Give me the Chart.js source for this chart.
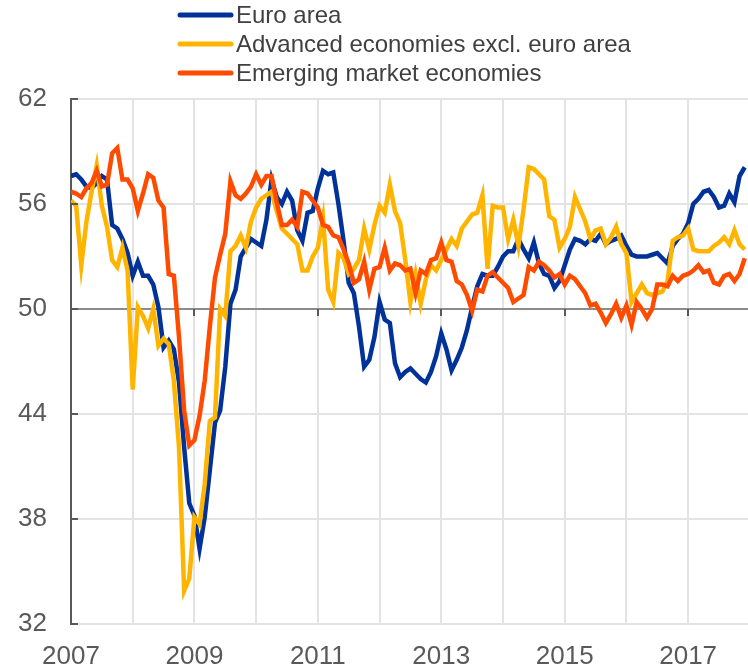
<!DOCTYPE html>
<html>
<head>
<meta charset="utf-8">
<script src="https://cdn.jsdelivr.net/npm/chart.js@4/dist/chart.umd.min.js"></script>
<style>
  body { margin: 0; background: #fff; }
  canvas { display: block; }
</style>
</head>
<body>
<canvas id="pmi-chart" width="748" height="668"></canvas>
<script>
// monthly values, Jan 2007 - Dec 2017
const startYear = 2007;

const euroArea = [
  57.6, 57.7, 57.4, 57.0, 56.9, 57.2, 57.6, 57.4, 54.8, 54.6, 54.0, 53.2,
  51.9, 52.7, 51.9, 51.9, 51.4, 50.1, 47.8, 48.2, 47.7, 45.8, 42.1, 38.9,
  38.2, 36.3, 38.1, 40.8, 43.5, 44.2, 46.7, 50.3, 51.1, 53.0, 53.5, 54.0,
  53.8, 53.6, 55.1, 57.4, 56.4, 56.0, 56.7, 56.2, 54.5, 53.9, 55.5, 55.6,
  56.9, 57.9, 57.7, 57.8, 56.0, 53.9, 51.5, 50.9, 49.0, 46.7, 47.1, 48.4,
  50.4, 49.4, 49.2, 46.9, 46.1, 46.4, 46.6, 46.3, 46.0, 45.8, 46.4, 47.3,
  48.6, 47.7, 46.5, 47.1, 47.8, 48.8, 50.1, 51.3, 52.0, 51.9, 51.9, 52.4,
  53.0, 53.3, 53.3, 54.0, 53.4, 52.9, 53.8, 52.6, 52.0, 51.9, 51.2, 51.6,
  52.5, 53.4, 54.0, 53.9, 53.7, 54.0, 53.9, 54.3, 53.7, 53.9, 54.0, 54.2,
  53.6, 53.1, 53.0, 53.0, 53.0, 53.1, 53.2, 52.9, 52.6, 53.6, 54.0, 54.3,
  54.9, 56.0, 56.3, 56.7, 56.8, 56.4, 55.8, 55.9, 56.6, 56.1, 57.6, 58.1
];

const advancedExEuro = [
  56.2, 55.9, 52.5, 55.0, 56.7, 58.2, 55.9, 54.7, 52.8, 52.4, 53.5, 52.2,
  45.4, 50.1, 49.6, 48.9, 50.0, 47.9, 48.3, 48.0, 45.9, 42.1, 33.9, 34.6,
  38.1, 37.7, 40.0, 43.6, 43.8, 50.0, 49.6, 53.3, 53.6, 54.2, 53.5, 55.0,
  55.8, 56.3, 56.5, 56.7, 55.6, 54.6, 54.3, 54.0, 53.7, 52.2, 52.2, 53.0,
  53.5, 55.2, 51.1, 50.4, 53.2, 52.9, 52.0, 52.3, 52.8, 54.6, 53.4, 54.8,
  55.9, 55.5, 57.1, 55.6, 54.9, 52.8, 50.4, 52.0, 50.3, 51.7, 52.5, 52.2,
  52.8, 53.4, 54.0, 53.6, 54.6, 55.0, 55.4, 55.5, 56.5, 52.3, 55.9, 55.8,
  55.8, 54.0, 55.1, 53.6, 55.7, 58.1, 58.0, 57.7, 57.4, 55.3, 55.1, 53.5,
  54.0, 54.7, 56.4, 55.7, 55.0, 54.0, 54.5, 54.6, 53.7, 54.1, 54.7, 53.7,
  53.2, 50.4, 50.9, 51.4, 50.9, 50.8, 50.9, 51.0, 51.6, 53.9, 54.1, 54.2,
  54.6, 53.4, 53.3, 53.3, 53.3, 53.6, 53.8, 54.1, 53.7, 54.5, 53.7, 53.4
];

const emergingMarkets = [
  56.7, 56.6, 56.4, 56.9, 57.2, 57.9, 57.0, 57.1, 58.9, 59.2, 57.4, 57.4,
  56.9, 55.6, 56.6, 57.7, 57.5, 56.2, 55.8, 52.0, 51.9, 48.4, 44.2, 42.2,
  42.5, 43.9, 45.9, 49.0, 51.8, 53.1, 54.3, 57.3, 56.5, 56.3, 56.6, 57.0,
  57.7, 57.1, 57.6, 57.6, 56.1, 54.8, 54.8, 55.1, 54.7, 56.7, 56.6, 56.2,
  55.8, 54.8, 54.7, 54.2, 54.1, 53.4, 52.6, 51.5, 51.7, 52.7, 51.1, 52.3,
  52.4, 53.5, 52.2, 52.6, 52.5, 52.2, 52.3, 50.9, 52.2, 52.0, 52.8, 52.9,
  53.8, 52.8, 52.7, 51.6, 51.4, 50.8, 49.9, 51.1, 51.0, 51.9, 52.1, 51.8,
  51.5, 51.2, 50.4, 50.6, 50.8, 52.4, 52.2, 52.7, 52.5, 52.2, 51.8, 52.0,
  51.4, 51.9, 51.7, 51.3, 50.9, 50.2, 50.3, 49.8, 49.2, 49.7, 50.3, 49.5,
  50.2, 49.1, 50.4, 50.0, 49.5, 50.0, 51.4, 51.4, 51.3, 51.9, 51.6, 51.9,
  52.0, 52.2, 52.5, 52.1, 52.2, 51.5, 51.4, 51.9, 52.0, 51.6, 52.0, 52.9
];

const seriesNames = ['Euro area', 'Advanced economies excl. euro area', 'Emerging market economies'];
const seriesColors = ['#003299', '#ffb400', '#ff4b00'];
const yTicks = [32, 38, 44, 50, 56, 62];
const labelYears = [2007, 2009, 2011, 2013, 2015, 2017];

// x = decimal year for each month
function toPoints(values) {
    return values.map((v, i) => ({ x: startYear + i / 12, y: v }));
}

// legend (one item per row) + short inner ticks on the axes
const extras = {
    id: 'extras',
    afterDatasetsDraw(chart) {
        const ctx = chart.ctx;
        const area = chart.chartArea;
        const xs = chart.scales.x;
        const ys = chart.scales.y;
        ctx.save();
        ctx.strokeStyle = '#595959';
        ctx.lineWidth = 2;
        ctx.beginPath();
        yTicks.forEach(t => {
            const y = Math.round(ys.getPixelForValue(t));
            ctx.moveTo(area.left, y);
            ctx.lineTo(area.left + 7, y);
        });
        const y50 = Math.round(ys.getPixelForValue(50));
        labelYears.forEach(yr => {
            if (yr === startYear) return;
            const x = Math.round(xs.getPixelForValue(yr));
            ctx.moveTo(x, y50);
            ctx.lineTo(x, y50 + 7);
        });
        ctx.stroke();

        ctx.font = "24px 'Liberation Sans', Arial, sans-serif";
        ctx.textBaseline = 'middle';
        ctx.lineCap = 'round';
        seriesNames.forEach((name, i) => {
            const y = 15 + i * 29;
            ctx.strokeStyle = seriesColors[i];
            ctx.lineWidth = 5;
            ctx.beginPath();
            ctx.moveTo(180, y);
            ctx.lineTo(231, y);
            ctx.stroke();
            ctx.fillStyle = '#404040';
            ctx.fillText(name, 236, y + 1);
        });
        ctx.restore();
    }
};

Chart.defaults.font.family = "'Liberation Sans', Arial, sans-serif";
Chart.defaults.color = '#595959';

const datasets = [euroArea, advancedExEuro, emergingMarkets].map((vals, i) => ({
    label: seriesNames[i],
    data: toPoints(vals),
    borderColor: seriesColors[i],
    backgroundColor: seriesColors[i],
    borderWidth: 4.5,
    pointRadius: 0,
    tension: 0,
    order: 2 - i
}));

new Chart(document.getElementById('pmi-chart'), {
    type: 'line',
    data: { datasets: datasets },
    plugins: [extras],
    options: {
        responsive: false,
        animation: false,
        layout: { padding: { top: 99, right: 0, left: 0, bottom: 0 } },
        plugins: {
            legend: { display: false },
            tooltip: { enabled: false }
        },
        scales: {
            x: {
                type: 'linear',
                min: 2007,
                max: 2017.97,
                afterFit: s => { s.height = 44; },
                grid: { color: '#e3e3e3', lineWidth: 2, drawTicks: false },
                border: { color: '#e3e3e3', width: 2 },
                ticks: {
                    stepSize: 1,
                    autoSkip: false,
                    includeBounds: false,
                    maxRotation: 0,
                    padding: 17,
                    font: { size: 26 },
                    callback: v => labelYears.includes(v) ? String(v) : ''
                }
            },
            y: {
                min: 32,
                max: 62,
                afterFit: s => { s.width = 71; },
                grid: {
                    drawTicks: false,
                    lineWidth: 2,
                    color: c => c.tick && c.tick.value === 50 ? '#8c8c8c' : '#e3e3e3'
                },
                border: { color: '#595959', width: 2 },
                ticks: {
                    stepSize: 6,
                    padding: 24,
                    font: { size: 26 }
                }
            }
        }
    }
});
</script>
</body>
</html>
